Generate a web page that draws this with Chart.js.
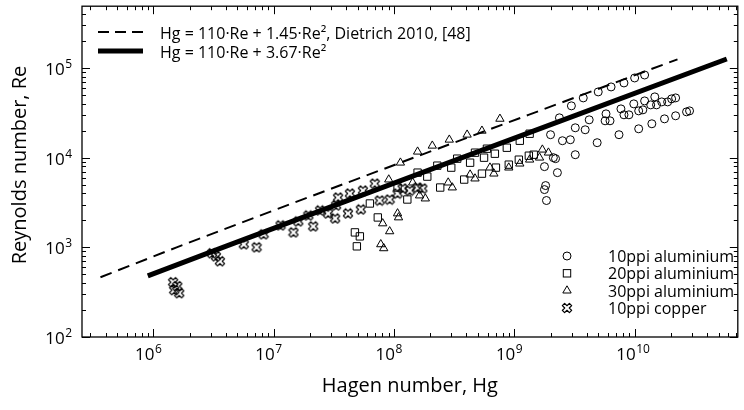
<!DOCTYPE html>
<html>
<head>
<meta charset="utf-8">
<script src="https://cdn.jsdelivr.net/npm/chart.js@4.4.1/dist/chart.umd.min.js"></script>
<style>
  html, body { margin: 0; padding: 0; background: #fff; }
  #wrap { width: 744px; height: 410px; }
</style>
</head>
<body>
<div id="wrap"><canvas id="hagenChart" width="744" height="410"></canvas></div>
<script>
// 10ppi aluminium (circles)
const al10Hg = [2.37e9, 2.98e9, 3.74e9, 4.98e9, 6.37e9, 8.15e9, 1.0e10, 1.21e10,
  2.0e9, 2.51e9, 2.92e9, 3.21e9, 3.88e9, 4.19e9, 5.78e9, 5.68e9, 6.24e9, 4.88e9, 7.41e9, 7.69e9,
  8.15e9, 8.96e9, 9.84e9, 1.08e10, 1.17e10, 1.21e10, 1.36e10, 1.47e10, 1.52e10, 1.68e10, 1.88e10,
  2.03e10, 2.19e10, 1.08e10, 1.39e10, 1.77e10, 2.19e10, 2.70e10, 2.86e10,
  2.11e9, 2.20e9, 1.78e9, 2.28e9, 3.21e9, 1.82e9, 1.78e9, 1.85e9];
const al10Re = [27830, 37840, 46420, 54120, 61500, 68130, 77450, 83560,
  18030, 15450, 15850, 21540, 20470, 26430, 30810, 25770, 25770, 14690, 18030, 35000,
  30060, 30060, 39810, 33270, 34150, 42950, 38810, 47640, 38810, 41880, 41880,
  45290, 46420, 20990, 23880, 27100, 29310, 32430, 33270,
  10000, 9750, 7943, 6808, 10790, 4885, 4406, 3327];

// 20ppi aluminium (squares)
const al20Hg = [4.73e7, 5.20e7, 4.91e7, 6.30e7, 7.33e7, 1.07e8, 1.29e8, 1.57e8, 1.89e8, 2.42e8,
  2.29e8, 2.99e8, 3.35e8, 3.83e8, 4.29e8, 4.71e8, 5.38e8, 5.60e8, 5.92e8, 6.89e8,
  7.03e8, 8.66e8, 8.99e8, 1.09e9, 1.11e9, 1.32e9, 1.34e9, 1.45e9];
const al20Re = [1468, 1325, 1026, 3083, 2154, 4645, 3415, 6808, 6152, 4645,
  8147, 7745, 9750, 5700, 8790, 11370, 6637, 10000, 12590, 11070,
  7745, 12910, 8360, 9500, 15450, 10520, 18490, 10790];

// 30ppi aluminium (triangles)
const al30Hg = [1.13e8, 1.57e8, 2.08e8, 2.88e8, 4.05e8, 5.38e8, 7.59e8, 9.04e7, 1.07e8, 1.09e8,
  8.05e7, 9.20e7, 7.76e7, 8.21e7, 1.43e8, 1.63e8, 1.82e8, 2.82e8, 3.05e8, 4.29e8,
  4.71e8, 6.27e8, 6.76e8, 8.99e8, 1.11e9, 1.34e9, 1.62e9, 1.71e9, 1.92e9];
const al30Re = [8790, 11660, 13590, 15850, 18030, 19950, 27100, 5700, 2387, 2154,
  1848, 1507, 1080, 975, 5272, 3784, 3500, 5272, 4645, 6470,
  5848, 7745, 6637, 7745, 8580, 9500, 10000, 12280, 11370];

// 10ppi copper (crosses)
const cu10Hg = [1.46e6, 1.58e6, 1.49e6, 1.64e6, 3.07e6, 3.31e6, 3.57e6, 5.64e6, 7.21e6, 8.24e6,
  1.14e7, 1.46e7, 1.60e7, 1.94e7, 2.13e7, 2.43e7, 2.83e7, 3.30e7, 3.24e7, 3.43e7,
  4.14e7, 4.30e7, 5.30e7, 5.51e7, 6.92e7, 7.60e7, 9.20e7, 1.07e8, 1.18e8, 1.35e8,
  1.57e8, 1.72e8];
const cu10Re = [408, 369, 333, 308, 858, 794, 699, 1080, 1000, 1395,
  1755, 1468, 1945, 2268, 1711, 2576, 2387, 2930, 2100, 3593,
  2387, 3981, 2644, 4300, 5140, 3327, 3415, 3981, 4528, 4300,
  4645, 4528];

// correlation lines, Hg = 110·Re + c·Re²
const dietrichRe = [464, 1000, 3000, 10000, 30000, 125000];
const dietrichHg = [3.63e5, 1.56e6, 1.34e7, 1.46e8, 1.31e9, 2.27e10];
const fitRe = [480, 1000, 3000, 10000, 30000, 126000];
const fitHg = [8.98e5, 3.78e6, 3.34e7, 3.68e8, 3.31e9, 5.83e10];

const seriesNames = ['10ppi aluminium', '20ppi aluminium', '30ppi aluminium', '10ppi copper'];
const lineNames = ['Hg = 110·Re + 1.45·Re², Dietrich 2010, [48]', 'Hg = 110·Re + 3.67·Re²'];

const FONT = '"Open Sans", "DejaVu Sans", sans-serif';

function pts(xs, ys) {
  return xs.map((v, i) => ({ x: v, y: ys[i] }));
}

// outlined X marker for the copper foam
function crossMarker() {
  const c = document.createElement('canvas');
  c.width = 12; c.height = 12;
  const g = c.getContext('2d');
  const a = 5, w = 1.6;
  const base = [[w, a], [w, w], [a, w], [a, -w], [w, -w], [w, -a], [-w, -a], [-w, -w], [-a, -w], [-a, w], [-w, w], [-w, a]];
  const r = Math.SQRT1_2;
  g.beginPath();
  base.forEach(([px, py], i) => {
    const qx = 6 + (px - py) * r, qy = 6 + (px + py) * r;
    if (i === 0) g.moveTo(qx, qy); else g.lineTo(qx, qy);
  });
  g.closePath();
  g.lineJoin = 'round';
  g.lineWidth = 1.2;
  g.strokeStyle = '#000';
  g.stroke();
  return c;
}
const cross = crossMarker();

function logTicks(scale) {
  const out = [];
  const lo = Math.floor(Math.log10(scale.min));
  const hi = Math.ceil(Math.log10(scale.max));
  for (let e = lo; e <= hi; e++) {
    for (let m = 1; m <= 9; m++) {
      const v = m * Math.pow(10, e);
      if (v >= scale.min * 0.999 && v <= scale.max * 1.001) out.push({ v, e, major: m === 1 });
    }
  }
  return out;
}

function powLabel(ctx, e, x, y) {
  ctx.font = '17px ' + FONT;
  ctx.fillText('10', x, y);
  const w = ctx.measureText('10').width;
  ctx.font = '12px ' + FONT;
  ctx.fillText(String(e), x + w + 0.5, y - 7);
}

const framePlugin = {
  id: 'frame',
  afterDraw(chart) {
    const { ctx, chartArea: a, scales: { x, y } } = chart;
    ctx.save();
    ctx.strokeStyle = '#000';
    ctx.lineWidth = 1.3;
    ctx.strokeRect(a.left, a.top, a.right - a.left, a.bottom - a.top);

    ctx.lineWidth = 1;
    ctx.beginPath();
    logTicks(x).forEach(t => {
      const px = Math.round(x.getPixelForValue(t.v)) + 0.5;
      const len = t.major ? 8 : 4;
      ctx.moveTo(px, a.bottom); ctx.lineTo(px, a.bottom - len);
      ctx.moveTo(px, a.top); ctx.lineTo(px, a.top + len);
    });
    logTicks(y).forEach(t => {
      const py = Math.round(y.getPixelForValue(t.v)) + 0.5;
      const len = t.major ? 8 : 4;
      ctx.moveTo(a.left, py); ctx.lineTo(a.left + len, py);
      ctx.moveTo(a.right, py); ctx.lineTo(a.right - len, py);
    });
    ctx.stroke();

    ctx.fillStyle = '#000';
    ctx.textBaseline = 'alphabetic';
    ctx.textAlign = 'left';
    logTicks(x).filter(t => t.major).forEach(t => {
      const px = x.getPixelForValue(t.v);
      ctx.font = '17px ' + FONT;
      const w = ctx.measureText('10').width;
      powLabel(ctx, t.e, px - w + 1, 360);
    });
    logTicks(y).filter(t => t.major).forEach(t => {
      const py = y.getPixelForValue(t.v);
      ctx.font = '17px ' + FONT;
      const w1 = ctx.measureText('10').width;
      ctx.font = '12px ' + FONT;
      const w2 = ctx.measureText(String(t.e)).width;
      powLabel(ctx, t.e, 72 - w1 - w2 - 0.5, py + 7);
    });

    // axis titles
    ctx.font = '20px ' + FONT;
    ctx.textAlign = 'center';
    ctx.fillText('Hagen number, Hg', (a.left + a.right) / 2, 392);
    ctx.save();
    ctx.translate(26, 165);
    ctx.rotate(-Math.PI / 2);
    ctx.fillText('Reynolds number, Re', 0, 0);
    ctx.restore();

    // line legend
    ctx.textAlign = 'left';
    ctx.font = '16px ' + FONT;
    ctx.lineWidth = 2;
    ctx.setLineDash([11, 6]);
    ctx.beginPath(); ctx.moveTo(98, 32); ctx.lineTo(143, 32); ctx.stroke();
    ctx.setLineDash([]);
    ctx.lineWidth = 5;
    ctx.beginPath(); ctx.moveTo(98, 51); ctx.lineTo(143, 51); ctx.stroke();
    ctx.fillText(lineNames[0], 160, 39);
    ctx.fillText(lineNames[1], 160, 58);

    // marker legend
    ctx.lineWidth = 1;
    const lx = 567;
    seriesNames.forEach((name, i) => {
      const ly = 256 + i * 17.3;
      ctx.beginPath();
      if (i === 0) {
        ctx.arc(lx, ly, 4, 0, Math.PI * 2);
        ctx.stroke();
      } else if (i === 1) {
        ctx.strokeRect(lx - 3.7, ly - 3.7, 7.4, 7.4);
      } else if (i === 2) {
        ctx.moveTo(lx, ly - 4.8);
        ctx.lineTo(lx + 4.2, ly + 2.4);
        ctx.lineTo(lx - 4.2, ly + 2.4);
        ctx.closePath();
        ctx.stroke();
      } else {
        ctx.drawImage(cross, lx - 6, Math.round(ly) - 6);
      }
      ctx.fillText(name, 608, ly + 6);
    });
    ctx.restore();
  }
};

const ctx = document.getElementById('hagenChart').getContext('2d');
new Chart(ctx, {
  type: 'scatter',
  data: {
    datasets: [
      {
        label: lineNames[1],
        data: pts(fitHg, fitRe),
        showLine: true,
        borderColor: '#000',
        borderWidth: 5,
        pointRadius: 0
      },
      {
        label: lineNames[0],
        data: pts(dietrichHg, dietrichRe),
        showLine: true,
        borderColor: '#000',
        borderWidth: 2,
        borderDash: [12, 7],
        pointRadius: 0
      },
      {
        label: seriesNames[0],
        data: pts(al10Hg, al10Re),
        pointStyle: 'circle',
        pointRadius: 4,
        borderWidth: 1,
        borderColor: '#000',
        backgroundColor: 'rgba(0,0,0,0)'
      },
      {
        label: seriesNames[1],
        data: pts(al20Hg, al20Re),
        pointStyle: 'rect',
        pointRadius: 5.2,
        borderWidth: 1,
        borderColor: '#000',
        backgroundColor: 'rgba(0,0,0,0)'
      },
      {
        label: seriesNames[2],
        data: pts(al30Hg, al30Re),
        pointStyle: 'triangle',
        pointRadius: 4.8,
        borderWidth: 1,
        borderColor: '#000',
        backgroundColor: 'rgba(0,0,0,0)'
      },
      {
        label: seriesNames[3],
        data: pts(cu10Hg, cu10Re),
        pointStyle: cross,
        pointRadius: 5,
        borderColor: '#000'
      }
    ]
  },
  options: {
    responsive: false,
    animation: false,
    devicePixelRatio: 1,
    events: [],
    layout: { padding: { top: 6, right: 1, left: 0, bottom: 0 } },
    plugins: {
      legend: { display: false },
      tooltip: { enabled: false }
    },
    scales: {
      x: {
        type: 'logarithmic',
        min: 2.55e5,
        max: 7.2e10,
        grid: { display: false },
        border: { display: false },
        ticks: { display: false },
        afterFit(s) { s.height = 73; }
      },
      y: {
        type: 'logarithmic',
        min: 100,
        max: 4.89e5,
        grid: { display: false },
        border: { display: false },
        ticks: { display: false },
        afterFit(s) { s.width = 82; }
      }
    }
  },
  plugins: [framePlugin]
});
</script>
</body>
</html>
